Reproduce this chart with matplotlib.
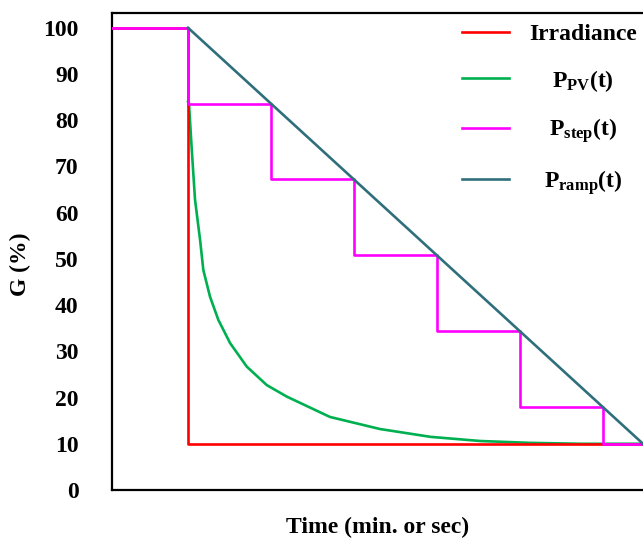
import matplotlib
matplotlib.use("Agg")
import matplotlib.pyplot as plt
from matplotlib.transforms import ScaledTranslation

plt.rcParams['font.family'] = ['Liberation Serif', 'DejaVu Serif']
plt.rcParams['font.weight'] = 'bold'
plt.rcParams['mathtext.fontset'] = 'custom'
plt.rcParams['mathtext.rm'] = 'Liberation Serif:bold'
plt.rcParams['mathtext.it'] = 'Liberation Serif:bold'
plt.rcParams['mathtext.bf'] = 'Liberation Serif:bold'

# time axis in arbitrary units (one step period = 1), drop happens at t = 0
t_start = -0.916
t_end = 5.48

# irradiance: sudden drop from 100 % to 10 %
irr_t = [t_start, 0, 0, t_end]
irr_g = [100, 100, 10, 10]

# PV output power
pv_t = [0, 0.012, 0.045, 0.084, 0.145, 0.184, 0.265, 0.365, 0.506,
        0.707, 0.948, 1.19, 1.45, 1.71, 2.31, 2.92, 3.52, 4.12, 4.72, 5.48]
pv_g = [84.0, 83.3, 73.6, 62.8, 54.1, 47.6, 41.8, 36.8, 31.8,
        26.7, 22.7, 20.2, 18.0, 15.8, 13.2, 11.5, 10.6, 10.2, 10.0, 10.0]

# stepwise ramp-down
step_t = [t_start, 0, 1, 2, 3, 4, 5, t_end]
step_g = [100, 83.6, 67.2, 50.8, 34.4, 18.0, 10.0, 10.0]

# linear ramp-down
ramp_t = [0, t_end]
ramp_g = [100, 10]

fig = plt.figure(figsize=(6.43, 5.4), dpi=100)
ax = fig.add_axes([112 / 643, 50 / 540, 1 - 112 / 643, 477 / 540])

lw = 1.9
ax.plot(pv_t, pv_g, color='#00b050', lw=lw, zorder=2, label=r'$\mathrm{P_{PV}(t)}$')
ax.plot(irr_t, irr_g, color='#ff0000', lw=lw, zorder=3, label='Irradiance')
ax.step(step_t, step_g, where='post', color='#ff00ff', lw=lw, zorder=4,
        label=r'$\mathrm{P_{step}(t)}$')
ax.plot(ramp_t, ramp_g, color='#2f6f7c', lw=lw, zorder=5, label=r'$\mathrm{P_{ramp}(t)}$')

ax.set_xlim(t_start, t_end)
ax.set_ylim(0, 103.2)
ax.set_yticks(range(0, 101, 10))
ax.set_xticks([])
ax.tick_params(axis='y', length=0, pad=24, labelsize=17)
for lab in ax.get_yticklabels():
    lab.set_fontweight('bold')

ax.spines['right'].set_visible(False)
for s in ['left', 'bottom', 'top']:
    ax.spines[s].set_linewidth(1.6)

ax.set_ylabel('G (%)', fontsize=17, fontweight='bold')
ax.yaxis.set_label_coords(-0.153, 0.474)
ax.set_xlabel('Time (min. or sec)', fontsize=17, fontweight='bold', labelpad=19)

handles, labels = ax.get_legend_handles_labels()
order = [1, 0, 2, 3]
leg = ax.legend([handles[i] for i in order], [labels[i] for i in order],
                loc='upper right', bbox_to_anchor=(1.0 + 6 / 531, 1.0 + 2 / 477),
                frameon=False, fontsize=17, handlelength=2.0, handletextpad=0.85,
                labelspacing=0.97, borderpad=0.1, borderaxespad=0.42)

# centre the legend labels on the widest one, like the original
fig.canvas.draw()
renderer = fig.canvas.get_renderer()
texts = leg.get_texts()
widths = [t.get_window_extent(renderer).width for t in texts]
wmax = max(widths)
for t, w in zip(texts, widths):
    dx = (wmax - w) / 2 / fig.dpi
    t.set_transform(t.get_transform() + ScaledTranslation(dx, 0, fig.dpi_scale_trans))

fig.savefig('out.png', dpi=100)
